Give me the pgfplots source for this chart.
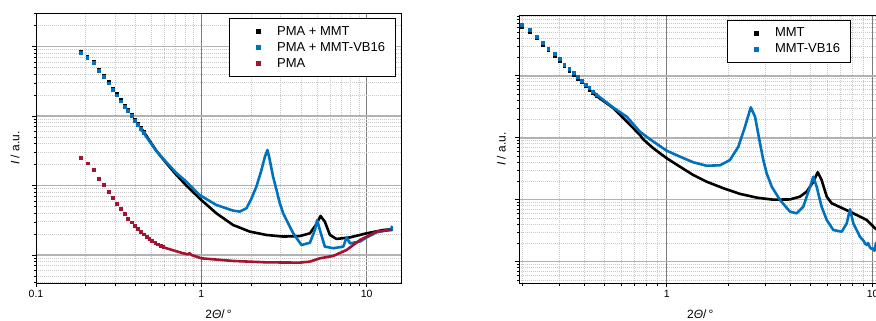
\documentclass[border=0pt]{standalone}
\usepackage{fontspec}
\setmainfont{Liberation Sans}
\usepackage{pgfplots}
\pgfplotsset{compat=1.18}
\definecolor{cblue}{RGB}{0,114,189}
\definecolor{cred}{RGB}{162,20,47}
\definecolor{gmajx}{RGB}{125,125,125}
\definecolor{gmajy}{RGB}{178,178,178}
\definecolor{gmin}{RGB}{200,200,200}
\tikzset{
  mydots/.style={mark=square*, mark size=1.4bp, mark options={line width=0.3bp}},
  mycurve/.style={line width=2.6bp, line join=round},
}
\pgfplotsset{every axis/.append style={
    scale only axis,
    axis line style={black, line width=0.9bp},
    tick style={black, line width=0.6bp},
    tick align=outside, tick pos=left,
    major tick length=4bp, minor tick length=2.5bp,
    grid=both,
    major x grid style={gmajx, line width=0.8bp},
    major y grid style={gmajy, line width=1.6bp},
    minor grid style={gmin, line width=0.7bp, dash pattern=on 1bp off 1bp},
    ytick={0.01,0.1,1,10,100,1000,10000},
    yticklabels={},
    minor ytick={0.2,0.3,0.4,0.5,0.6,0.7,0.8,0.9,2,3,4,5,6,7,8,9,20,30,40,50,60,70,80,90,200,300,400,500,600,700,800,900,2000,3000,4000,5000,6000,7000,8000,9000},
    minor xtick={0.2,0.3,0.4,0.5,0.6,0.7,0.8,0.9,2,3,4,5,6,7,8,9,20,30},
    ticklabel style={font=\fontsize{10.5bp}{12bp}\selectfont},
    xlabel={2\textit{Θ}/\,°},
    ylabel={\textit{I} / a.u.},
    legend style={anchor=north east, draw=black, line width=0.8bp, fill=white,
      font=\fontsize{13bp}{15bp}\selectfont, inner xsep=8.5bp, inner ysep=5bp,
      row sep=0bp, cells={anchor=west},
      nodes={text height=9.6bp, text depth=2.8bp, inner ysep=1.8bp}},
}}
\pgfplotsset{mylegend/.style={legend image code/.code={%
      \path[draw=none, fill=none] (0bp,-3bp) rectangle (37.5bp,3bp);
      \path[draw=none, fill] (18.6bp,-2.6bp) rectangle (23.8bp,2.6bp);}}}
\begin{document}
\begin{tikzpicture}
\useasboundingbox (0,0) rectangle (876bp,321bp);
% ---------------- left panel ----------------
\begin{loglogaxis}[at={(36bp,38bp)}, anchor=south west,
  width=365bp, height=270bp,
  xmin=0.1, xmax=16.14, ymin=0.395, ymax=3034,
  xtick={0.1,1,10}, xticklabels={0.1,1,10},
  every axis y label/.style={at={(axis description cs:-0.0575,0.5)}, rotate=90, anchor=center, font=\fontsize{12bp}{14bp}\selectfont},
  every axis x label/.style={at={(axis description cs:0.5,-0.117)}, anchor=center, font=\fontsize{12bp}{14bp}\selectfont},
  legend style={at={(axis description cs:0.9863,0.980)}},
]
\addplot[only marks, mydots, black, mylegend] coordinates {
(0.187,859) (0.204,728) (0.222,617) (0.240,473) (0.257,379) (0.274,308) (0.291,249)
(0.308,207) (0.326,170) (0.343,141) (0.359,123) (0.377,104) (0.394,90.2) (0.413,77.3)
(0.429,68.2) (0.447,59.8)};
\addlegendentry{PMA + MMT}
\addplot[mycurve, black, forget plot] coordinates {
(0.429,68.2) (0.447,59.8) (0.465,52) (0.533,31.9) (0.614,21.0) (0.705,14.3) (0.811,10.0)
(1.0,6.18) (1.233,3.98) (1.556,2.70) (1.963,2.17) (2.477,1.94) (3.126,1.84) (3.945,1.87)
(4.539,2.05) (4.977,2.79) (5.26,3.64) (5.585,3.02) (5.998,1.94) (6.577,1.70) (7.925,1.79)
(10.0,2.05) (12.62,2.29) (14.19,2.34)};
\addplot[only marks, mydots, cblue, mylegend] coordinates {
(0.187,826) (0.204,700) (0.222,593) (0.240,455) (0.257,364) (0.274,296) (0.291,239)
(0.308,199) (0.326,163) (0.343,136) (0.359,118) (0.377,100) (0.394,86.7) (0.413,74.3)
(0.429,65.6) (0.447,57.5)};
\addlegendentry{PMA + MMT-VB16}
\addplot[mycurve, cblue, forget plot] coordinates {
(0.429,65.6) (0.447,57.5) (0.465,50.1) (0.533,31.6) (0.614,21.6) (0.705,15.2) (0.811,11.35)
(0.977,7.29) (1.233,5.24) (1.556,4.35) (1.706,4.21) (1.875,4.69) (2.0,6.3) (2.153,9.62)
(2.30,16.0) (2.42,25.5) (2.512,32.4) (2.570,26.0) (2.716,13.4) (2.851,8.61) (2.985,5.54)
(3.126,3.98) (3.43,2.56) (3.597,2.05) (4.036,1.39) (4.539,1.50) (4.864,2.29) (5.023,3.19)
(5.212,2.29) (5.585,1.32) (6.281,1.25) (7.228,1.32) (7.568,1.79) (7.925,1.47) (9.12,1.56)
(10.0,1.79) (11.51,2.12) (14.19,2.34) (14.19,2.55) (14.19,2.2)};
\addplot[only marks, mydots, cred, mylegend] coordinates {
(0.187,25.1) (0.205,20.9) (0.222,16.7) (0.240,12.7) (0.257,10.2) (0.274,8.06) (0.291,6.76)
(0.308,5.54) (0.326,4.59) (0.343,3.93) (0.359,3.37) (0.377,2.96) (0.394,2.64) (0.413,2.37)
(0.429,2.16) (0.447,1.99) (0.466,1.83) (0.484,1.70) (0.502,1.61) (0.526,1.49) (0.546,1.43)
(0.567,1.35) (0.588,1.30)};
\addlegendentry{PMA}
\addplot[mycurve, cred, forget plot] coordinates {
(0.546,1.43) (0.567,1.35) (0.588,1.30) (0.614,1.25) (0.774,1.06) (0.83,1.02) (0.85,1.06)
(0.87,1.0) (1.0,0.895) (1.556,0.820) (2.477,0.783) (3.945,0.776) (4.539,0.802) (5.212,0.895)
(6.281,0.968) (7.568,1.18) (9.12,1.64) (11.51,2.17) (14.19,2.29)};
\end{loglogaxis}
% ---------------- right panel ----------------
\begin{loglogaxis}[at={(519.3bp,38bp)}, anchor=south west,
  width=361.9bp, height=268bp,
  xmin=0.1925, xmax=11, ymin=0.4533, ymax=9528,
  xtick={1,10}, xticklabels={1,10},
  every axis y label/.style={at={(axis description cs:-0.0497,0.5)}, rotate=90, anchor=center, font=\fontsize{12bp}{14bp}\selectfont},
  every axis x label/.style={at={(axis description cs:0.5,-0.118)}, anchor=center, font=\fontsize{12bp}{14bp}\selectfont},
  legend style={at={(axis description cs:0.9163,0.981)}},
]
\addplot[only marks, mydots, black, mylegend] coordinates {
(0.198,6250) (0.216,5190) (0.233,4040) (0.250,3200) (0.266,2630) (0.285,2130) (0.301,1765)
(0.318,1450) (0.336,1220) (0.352,1050) (0.370,905) (0.387,789) (0.404,690) (0.420,601)
(0.437,532) (0.454,476)};
\addlegendentry{MMT}
\addplot[mycurve, black, forget plot] coordinates {
(0.437,532) (0.454,476) (0.551,300) (0.640,182) (0.741,111) (0.769,94.2) (0.861,67.5)
(1.0,46.6) (1.161,34.0) (1.346,25.0) (1.563,19.5) (1.884,15.3) (2.270,12.4) (2.735,10.8)
(3.289,10.0) (3.963,10.1) (4.436,11.2) (4.786,13.5) (5.152,19.5) (5.408,27.7) (5.649,20.8)
(5.984,11.2) (6.324,8.75) (7.762,6.40) (9.354,4.71) (10.26,3.46) (10.96,3.0)};
\addplot[only marks, mydots, cblue, mylegend] coordinates {
(0.198,6577) (0.216,5460) (0.233,4256) (0.250,3365) (0.266,2765) (0.285,2239) (0.301,1858)
(0.318,1527) (0.336,1283) (0.352,1106) (0.370,953) (0.387,830) (0.404,726) (0.420,633)
(0.437,560) (0.454,501)};
\addlegendentry{MMT-VB16}
\addplot[mycurve, cblue, forget plot] coordinates {
(0.437,560) (0.454,501) (0.551,305) (0.640,218) (0.741,125) (0.830,94.2) (1.0,61.7)
(1.161,49.4) (1.346,40.1) (1.563,35.3) (1.816,35.9) (2.028,43.7) (2.228,71.6) (2.399,150)
(2.559,309) (2.685,218) (2.838,81.3) (2.944,43.7) (3.055,26.7) (3.236,16.2) (3.548,9.89)
(3.972,6.40) (4.276,6.04) (4.603,7.71) (4.966,16.2) (5.152,23.5) (5.346,16.2) (5.649,7.71)
(5.984,4.71) (6.442,3.24) (7.079,3.05) (7.482,4.16) (7.762,7.0) (8.054,4.16) (8.670,2.53)
(9.0,2.2) (9.2,1.95) (9.354,1.86) (9.5,2.0) (9.7,1.7) (9.9,1.6) (10.07,1.64) (10.2,1.5)
(10.37,1.98) (10.6,2.1) (10.96,2.3)};
\end{loglogaxis}
\end{tikzpicture}
\end{document}
